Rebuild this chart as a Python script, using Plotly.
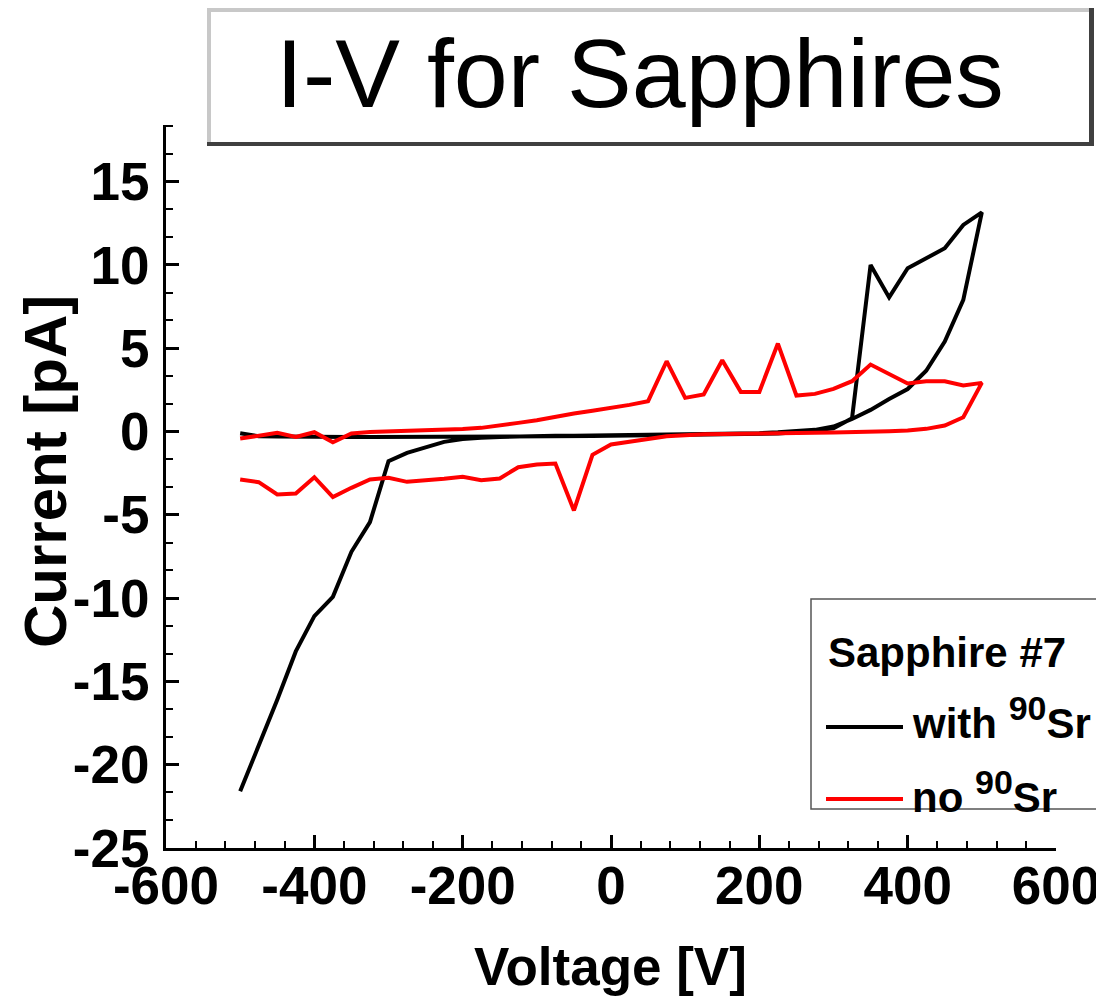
import plotly.graph_objects as go

# ---------------- data ----------------
voltage_up = [-500, -475, -450, -425, -400, -375, -350, -325, -300, -275, -250, -225, -200,
              -175, -150, -125, -100, -75, -50, -25, 0, 25, 50, 75, 100, 125, 150, 175, 200,
              225, 250, 275, 300, 325, 350, 375, 400, 425, 450, 475, 500]
voltage_down = [475, 450, 425, 400, 375, 350, 325, 300, 275, 250, 225, 200, 175, 150, 125,
                100, 75, 50, 25, 0, -25, -50, -75, -100, -125, -150, -175, -200, -225, -250,
                -275, -300, -325, -350, -375, -400, -425, -450, -475, -500]

with_sr_up = [-0.10, -0.28, -0.30, -0.32, -0.32, -0.33, -0.33, -0.33, -0.33, -0.32, -0.32, -0.32,
              -0.31, -0.30, -0.30, -0.30, -0.29, -0.28, -0.28, -0.27, -0.26, -0.25, -0.24, -0.23,
              -0.22, -0.21, -0.20, -0.18, -0.16, -0.12, -0.05, 0.05, 0.20, 0.80, 10.0, 8.05,
              9.80, 10.40, 11.0, 12.40, 13.15]
with_sr_down = [7.90, 5.40, 3.65, 2.55, 1.95, 1.30, 0.75, 0.30, 0.10, 0.00, -0.05, -0.10, -0.12,
                -0.15, -0.17, -0.18, -0.20, -0.20, -0.22, -0.23, -0.24, -0.25, -0.26, -0.27,
                -0.30, -0.33, -0.38, -0.45, -0.62, -0.92, -1.28, -1.78, -5.44, -7.22, -9.92,
                -11.08, -13.20, -16.10, -18.80, -21.60]

no_sr_up = [-0.42, -0.28, -0.08, -0.32, -0.04, -0.64, -0.12, -0.03, 0.00, 0.05, 0.08, 0.10,
            0.15, 0.22, 0.35, 0.52, 0.68, 0.90, 1.08, 1.25, 1.40, 1.60, 1.82, 4.22, 2.02, 2.22,
            4.28, 2.38, 2.38, 5.28, 2.16, 2.26, 2.56, 3.02, 4.02, 3.46, 2.88, 3.02, 3.02, 2.76,
            2.92]
no_sr_down = [0.86, 0.36, 0.16, 0.06, 0.02, -0.02, -0.04, -0.06, -0.08, -0.09, -0.10, -0.11,
              -0.12, -0.14, -0.17, -0.22, -0.28, -0.45, -0.60, -0.78, -1.40, -4.74, -1.92, -1.98,
              -2.14, -2.82, -2.92, -2.72, -2.84, -2.92, -3.02, -2.78, -2.88, -3.38, -3.94, -2.74,
              -3.72, -3.78, -3.04, -2.88]

x_tick_vals = [-600, -400, -200, 0, 200, 400, 600]
x_tick_text = ["-600", "-400", "-200", "0", "200", "400", "600"]
y_tick_vals = [-25, -20, -15, -10, -5, 0, 5, 10, 15]
y_tick_text = ["-25", "-20", "-15", "-10", "-5", "0", "5", "10", "15"]

title_text = "I-V for Sapphires"
x_title = "Voltage [V]"
y_title = "Current [pA]"
legend_title = "Sapphire #7"
name_with = 'with <sup><span style="font-size:34px">90</span></sup>Sr'
name_no = 'no <sup><span style="font-size:34px">90</span></sup>Sr'

# ---------------- figure ----------------
# the page body has an 8px margin, so the figure is laid out 8px smaller
OFF = 8
W, H = 1104 - OFF, 997 - OFF
PL, PR, PT, PB = 166, 1056, 125, 848          # plot-area edges in page pixels
L, R, T, B = PL - OFF, W - (PR - OFF), PT - OFF, H - (PB - OFF)
PW, PH = W - L - R, H - T - B


def px(xp):
    return (xp - OFF - L) / PW


def py(yp):
    return (H - B - (yp - OFF)) / PH


FONT = "Liberation Sans, Arial, sans-serif"

fig = go.Figure()
fig.add_trace(go.Scatter(x=voltage_up + voltage_down, y=with_sr_up + with_sr_down,
                         mode="lines", line=dict(color="#000000", width=4),
                         name="with 90Sr"))
fig.add_trace(go.Scatter(x=voltage_up + voltage_down, y=no_sr_up + no_sr_down,
                         mode="lines", line=dict(color="#ff0000", width=4),
                         name="no 90Sr"))

axis_common = dict(
    showgrid=False, zeroline=False, showline=True, linewidth=3, linecolor="black",
    ticks="inside", ticklen=13, tickwidth=3, tickcolor="black",
    tickfont=dict(family=FONT, size=53, color="black", weight="bold"),
)

fig.update_xaxes(range=[-600, 600], tickvals=x_tick_vals, ticktext=x_tick_text,
                 minor=dict(dtick=40, tick0=0, ticks="inside", ticklen=7, tickwidth=2,
                            tickcolor="black", showgrid=False),
                 ticklabelstandoff=-11,
                 **axis_common)
fig.update_yaxes(range=[-25, 18.4], tickvals=y_tick_vals, ticktext=y_tick_text,
                 minor=dict(dtick=5 / 3, tick0=0, ticks="inside", ticklen=7, tickwidth=2,
                            tickcolor="black", showgrid=False),
                 ticklabelstandoff=3,
                 **axis_common)

shapes = []
# title box
shapes.append(dict(type="rect", xref="paper", yref="paper", x0=px(209), x1=px(1091),
                   y0=py(144), y1=py(10), fillcolor="white", line=dict(width=0), layer="above"))
shapes.append(dict(type="line", xref="paper", yref="paper", x0=px(207), x1=px(1092),
                   y0=py(10), y1=py(10), line=dict(color="#c8c8c8", width=4), layer="above"))
shapes.append(dict(type="line", xref="paper", yref="paper", x0=px(209), x1=px(209),
                   y0=py(8), y1=py(144), line=dict(color="#c8c8c8", width=4), layer="above"))
shapes.append(dict(type="line", xref="paper", yref="paper", x0=px(207), x1=px(1094),
                   y0=py(144), y1=py(144), line=dict(color="#404040", width=4), layer="above"))
shapes.append(dict(type="line", xref="paper", yref="paper", x0=px(1091.5), x1=px(1091.5),
                   y0=py(8), y1=py(146), line=dict(color="#404040", width=5), layer="above"))
# legend box
shapes.append(dict(type="rect", xref="paper", yref="paper", x0=px(811), x1=px(1120),
                   y0=py(809), y1=py(599), fillcolor="white",
                   line=dict(color="#555555", width=1.5), layer="above"))
shapes.append(dict(type="line", xref="paper", yref="paper", x0=px(826), x1=px(903),
                   y0=py(727), y1=py(727), line=dict(color="#000000", width=4), layer="above"))
shapes.append(dict(type="line", xref="paper", yref="paper", x0=px(826), x1=px(903),
                   y0=py(799), y1=py(799), line=dict(color="#ff0000", width=4), layer="above"))

annotations = [
    dict(text=title_text, xref="paper", yref="paper", x=px(640), y=py(73),
         xanchor="center", yanchor="middle", showarrow=False,
         font=dict(family=FONT, size=97, color="black")),
    dict(text=y_title, xref="paper", yref="paper", x=px(46), y=py(472), textangle=-90,
         xanchor="center", yanchor="middle", showarrow=False,
         font=dict(family=FONT, size=60, color="black", weight="bold")),
    dict(text=x_title, xref="paper", yref="paper", x=px(610), y=py(966),
         xanchor="center", yanchor="middle", showarrow=False,
         font=dict(family=FONT, size=53, color="black", weight="bold")),
    dict(text=legend_title, xref="paper", yref="paper", x=px(826), y=py(652),
         xanchor="left", yanchor="middle", showarrow=False,
         font=dict(family=FONT, size=42, color="black", weight="bold")),
    dict(text=name_with, xref="paper", yref="paper", x=px(910), y=py(718),
         xanchor="left", yanchor="middle", showarrow=False,
         font=dict(family=FONT, size=42, color="black", weight="bold")),
    dict(text=name_no, xref="paper", yref="paper", x=px(910), y=py(792),
         xanchor="left", yanchor="middle", showarrow=False,
         font=dict(family=FONT, size=42, color="black", weight="bold")),
]

fig.update_layout(width=W, height=H, margin=dict(l=L, r=R, t=T, b=B, autoexpand=False),
                  paper_bgcolor="white", plot_bgcolor="white", showlegend=False,
                  shapes=shapes, annotations=annotations,
                  font=dict(family=FONT, color="black"))

fig.write_html("out.html")
